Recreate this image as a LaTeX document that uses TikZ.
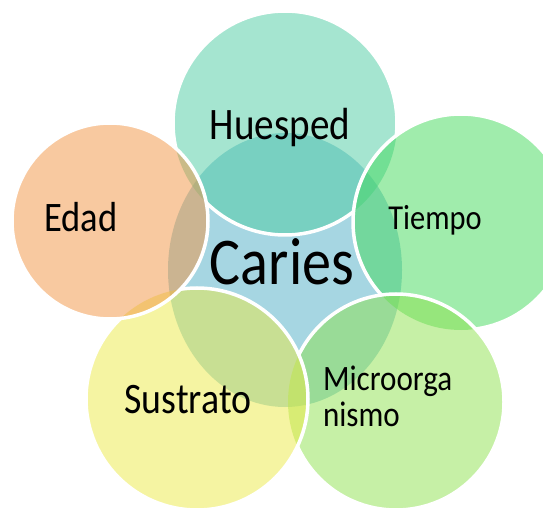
\documentclass[tikz,border=0pt]{standalone}
\usepackage{fontspec}
\setmainfont[FakeStretch=0.87]{Carlito}
\definecolor{cariesc}{RGB}{166,214,226}
\definecolor{huespedc}{RGB}{75,203,161}
\definecolor{tiempoc}{RGB}{65,217,89}
\definecolor{microc}{RGB}{141,225,77}
\definecolor{sustratoc}{RGB}{235,233,69}
\definecolor{edadc}{RGB}{241,147,65}

\begin{document}
\begin{tikzpicture}
[x=1pt,y=-1pt,
 every node/.style={inner sep=0pt,outer sep=0pt,anchor=base,text=black},
 bubble/.style={fill opacity=0.5},
 rim/.style={draw=white,line width=3.5pt}]
\useasboundingbox (0,0) rectangle (543,510);
\clip (0,0) rectangle (543,510);

% centre
\fill[cariesc] (285,270) ellipse [x radius=117pt,y radius=137pt];

% outer circles
\fill[bubble,huespedc]  (285,123) circle [radius=112pt];
\fill[bubble,tiempoc]   (461,222) circle [radius=108pt];
\fill[bubble,microc]    (396,402) circle [radius=108pt];
\fill[bubble,sustratoc] (197,399) circle [radius=111pt];
\fill[bubble,edadc]     (110,221) circle [radius=98pt];

% white rims, each one hidden under the circles that come after it
\begin{scope}[even odd rule]
\clip (-20,-20) rectangle (563,530)
  (461,222) circle [radius=108pt] (396,402) circle [radius=108pt]
  (197,399) circle [radius=111pt] (110,221) circle [radius=98pt];
\draw[rim] (285,123) circle [radius=112pt];
\end{scope}
\begin{scope}[even odd rule]
\clip (-20,-20) rectangle (563,530)
  (396,402) circle [radius=108pt]
  (197,399) circle [radius=111pt] (110,221) circle [radius=98pt];
\draw[rim] (461,222) circle [radius=108pt];
\end{scope}
\begin{scope}[even odd rule]
\clip (-20,-20) rectangle (563,530)
  (197,399) circle [radius=111pt] (110,221) circle [radius=98pt];
\draw[rim] (396,402) circle [radius=108pt];
\end{scope}
\begin{scope}[even odd rule]
\clip (-20,-20) rectangle (563,530)
  (110,221) circle [radius=98pt];
\draw[rim] (197,399) circle [radius=111pt];
\end{scope}
\draw[rim] (110,221) circle [radius=98pt];

% labels
\node (caries)   at (282,285) {\fontsize{66.8}{70}\selectfont Caries};
\node (huesped)  at (280,140) {\fontsize{45}{48}\selectfont Huesped};
\node (edad)     at (81,232)  {\fontsize{42}{45}\selectfont Edad};
\node (tiempo)   at (435,230) {\fontsize{35}{38}\selectfont Tiempo};
\node (sustrato) at (188,413) {\fontsize{43.5}{46}\selectfont Sustrato};
\node[anchor=base west,align=left,font=\fontsize{35.7}{36}\selectfont]
  (micro) at (323,426) {Microorga\\nismo};
\end{tikzpicture}
\end{document}
